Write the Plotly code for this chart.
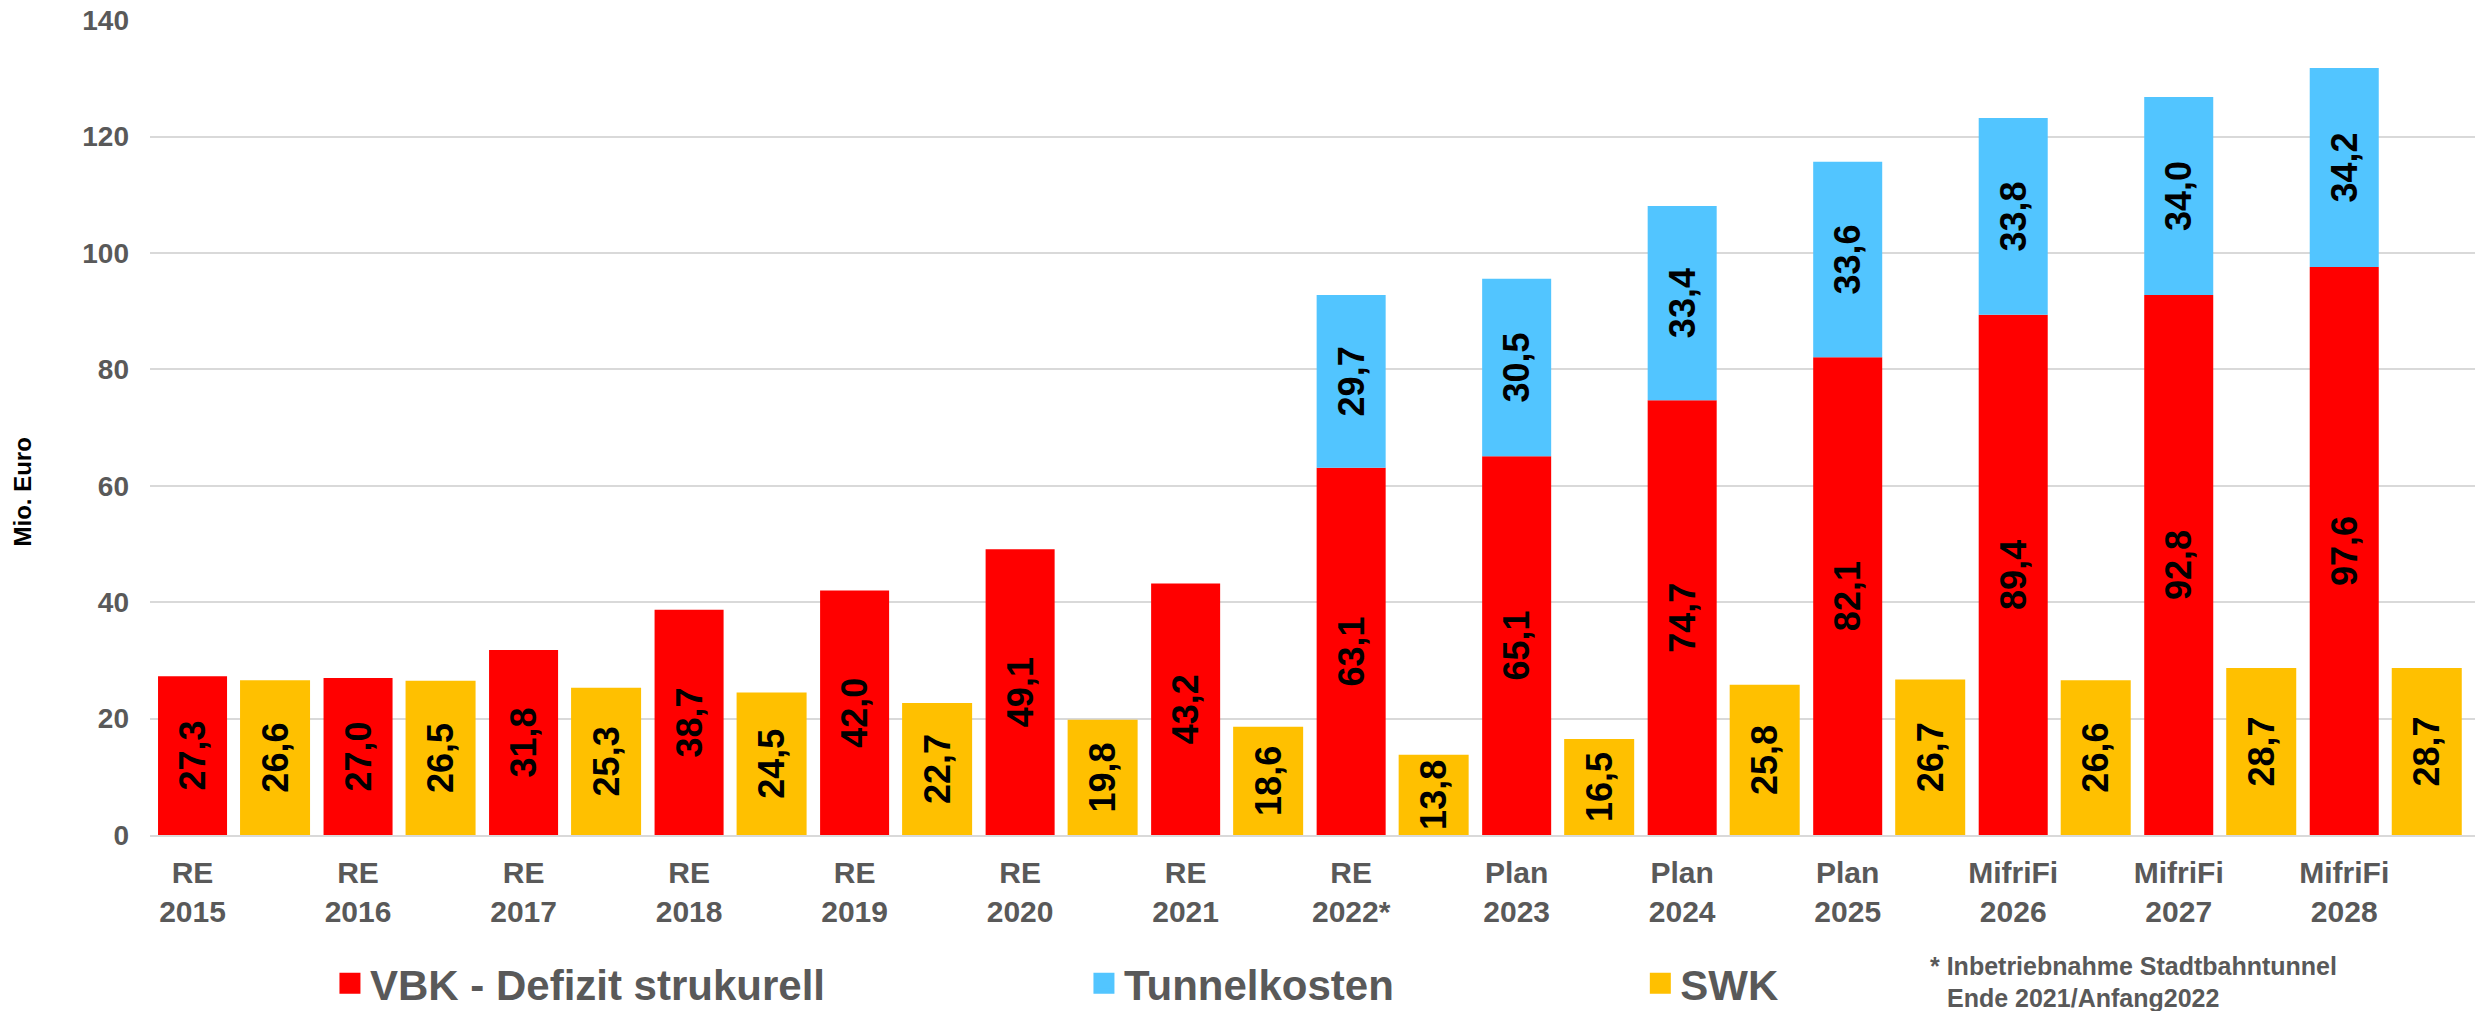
import plotly.graph_objects as go

# Kategorien (x-Achse)
kategorien = ["RE<br>2015", "RE<br>2016", "RE<br>2017", "RE<br>2018", "RE<br>2019",
              "RE<br>2020", "RE<br>2021", "RE<br>2022*", "Plan<br>2023", "Plan<br>2024",
              "Plan<br>2025", "MifriFi<br>2026", "MifriFi<br>2027", "MifriFi<br>2028"]

# Werte in Mio. Euro
vbk_defizit = [27.3, 27.0, 31.8, 38.7, 42.0, 49.1, 43.2, 63.1, 65.1, 74.7, 82.1, 89.4, 92.8, 97.6]
tunnelkosten = [None, None, None, None, None, None, None, 29.7, 30.5, 33.4, 33.6, 33.8, 34.0, 34.2]
swk = [26.6, 26.5, 25.3, 24.5, 22.7, 19.8, 18.6, 13.8, 16.5, 25.8, 26.7, 26.6, 28.7, 28.7]

ROT = "#FF0000"
BLAU = "#52C5FF"
GELB = "#FFC000"
GRAU = "#595959"
SCHRIFT = "Liberation Sans, Arial, sans-serif"


def fmt(werte):
    # Dezimalkomma wie im Original
    return ["" if v is None else f"{v:.1f}".replace(".", ",") for v in werte]


fig = go.Figure()

# Rote Säule (VBK) mittig auf der Kategorie
fig.add_trace(go.Bar(
    x=kategorien, y=vbk_defizit, name="VBK - Defizit strukurell",
    marker=dict(color=ROT, line=dict(width=0)),
    width=0.417, offset=-0.2085,
    text=fmt(vbk_defizit), showlegend=False,
))

# Tunnelkosten gestapelt auf VBK
fig.add_trace(go.Bar(
    x=kategorien, y=tunnelkosten, base=vbk_defizit, name="Tunnelkosten",
    marker=dict(color=BLAU, line=dict(width=0)),
    width=0.417, offset=-0.2085,
    text=fmt(tunnelkosten), showlegend=False,
))

# SWK rechts daneben
fig.add_trace(go.Bar(
    x=kategorien, y=swk, name="SWK",
    marker=dict(color=GELB, line=dict(width=0)),
    width=0.423, offset=0.287,
    text=fmt(swk), showlegend=False,
))

fig.update_traces(
    selector=dict(type="bar"),
    textposition="inside", textangle=-90, insidetextanchor="middle",
    textfont=dict(family=SCHRIFT, size=36, color="black", weight="bold"),
)

# Legendeneinträge (größere Quadrate), je eigene Legende
legenden = [("VBK - Defizit strukurell", ROT, "legend"),
            ("Tunnelkosten", BLAU, "legend2"),
            ("SWK", GELB, "legend3")]
for name, farbe, leg in legenden:
    fig.add_trace(go.Scatter(
        x=[None], y=[None], mode="markers", name=name, legend=leg,
        marker=dict(symbol="square", size=16, color=farbe, line=dict(color=farbe, width=5)),
    ))

leg_stil = dict(orientation="h", yanchor="middle", y=-0.182, xanchor="left",
                font=dict(family=SCHRIFT, size=42, color=GRAU, weight="bold"),
                bgcolor="rgba(0,0,0,0)", itemsizing="trace")

# Seite hat 8px Rand -> Abbildung etwas kleiner
fig.update_layout(
    width=2475, height=1003,
    margin=dict(l=142, r=8, t=12, b=176, autoexpand=False),
    plot_bgcolor="white", paper_bgcolor="white",
    barmode="overlay",
    uniformtext=dict(minsize=36, mode="show"),
    legend=dict(x=0.0774, **leg_stil),
    legend2=dict(x=0.4017, **leg_stil),
    legend3=dict(x=0.641, **leg_stil),
    xaxis=dict(
        type="category", categoryorder="array", categoryarray=kategorien,
        range=[-0.257, 13.79], automargin=False,
        showgrid=False, showline=True, linecolor="#D9D9D9", linewidth=2,
        ticks="", ticklabelstandoff=10,
        tickfont=dict(family=SCHRIFT, size=30, color=GRAU, weight="bold"),
    ),
    yaxis=dict(
        range=[0, 140.05], tickvals=[0, 20, 40, 60, 80, 100, 120, 140], automargin=False,
        showgrid=True, gridcolor="#D9D9D9", gridwidth=1.5,
        zeroline=False, ticks="", ticklabelstandoff=20, ticklabeloverflow="allow",
        tickfont=dict(family=SCHRIFT, size=28, color=GRAU, weight="bold"),
    ),
    annotations=[
        dict(text="Mio. Euro", xref="paper", yref="paper", x=-0.0548, y=0.421,
             textangle=-90, showarrow=False, xanchor="center", yanchor="middle",
             font=dict(family=SCHRIFT, size=24, color="black", weight="bold")),
        dict(text="* Inbetriebnahme Stadtbahntunnel", xref="paper", yref="paper",
             x=0.7647, y=-0.1607, showarrow=False, xanchor="left", yanchor="middle",
             font=dict(family=SCHRIFT, size=25, color=GRAU, weight="bold")),
        dict(text="Ende 2021/Anfang2022", xref="paper", yref="paper",
             x=0.7720, y=-0.2, showarrow=False, xanchor="left", yanchor="middle",
             font=dict(family=SCHRIFT, size=25, color=GRAU, weight="bold")),
    ],
)

fig.write_html("out.html")
